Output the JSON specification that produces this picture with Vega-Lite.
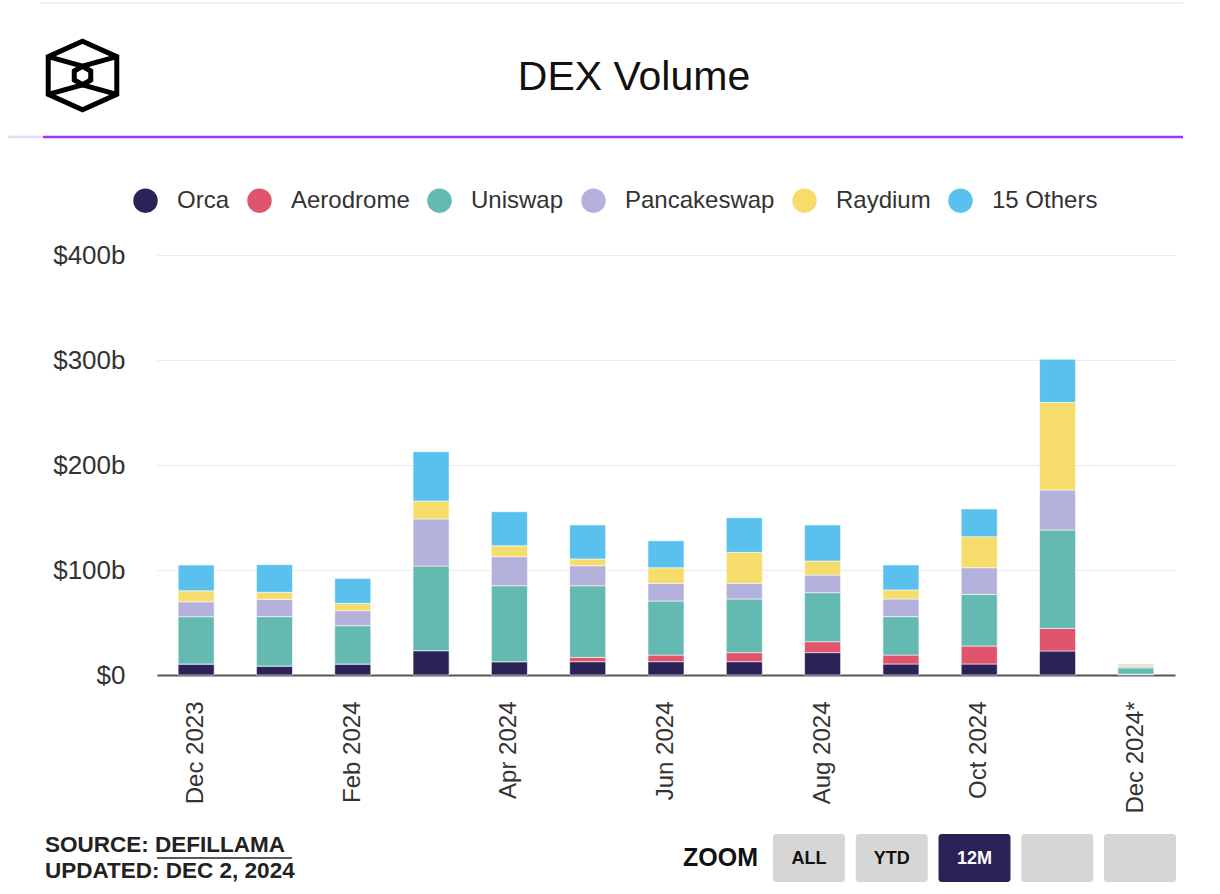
{
  "$schema": "https://vega.github.io/schema/vega-lite/v6.json",
  "padding": 0,
  "spacing": 0,
  "background": "white",
  "config": {"view": {"stroke": null}, "font": "Liberation Sans"},
  "vconcat": [
    {
      "width": 1018,
      "height": 242,
      "data": {"values": [{"t": "DEX Volume"}]},
      "layer": [
        {"mark": {"type": "rule", "color": "#eeeeee", "strokeWidth": 1.5}, "encoding": {"x": {"datum": -117, "type": "quantitative", "scale": {"domain": [0, 1018], "nice": false, "zero": false}, "axis": null}, "x2": {"datum": 1026}, "y": {"datum": 3, "type": "quantitative", "scale": {"domain": [242, 0], "nice": false, "zero": false}, "axis": null}}},
        {"mark": {"type": "rule", "color": "#e8dcfb", "strokeWidth": 2.5}, "encoding": {"x": {"datum": -149, "type": "quantitative"}, "x2": {"datum": -114}, "y": {"datum": 137, "type": "quantitative"}}},
        {"mark": {"type": "rule", "color": "#a133f5", "strokeWidth": 2.5}, "encoding": {"x": {"datum": -114, "type": "quantitative"}, "x2": {"datum": 1026}, "y": {"datum": 137, "type": "quantitative"}}},
        {"mark": {"type": "point", "filled": false, "stroke": "black", "strokeWidth": 5, "opacity": 1, "size": 4700, "shape": "M0,-1L1,-0.55L1,0.55L0,1L-1,0.55L-1,-0.55ZM-1,-0.55L0,-0.27L1,-0.55M-1,0.55L0,0.27L1,0.55M0,-0.27L0.24,-0.13L0.24,0.13L0,0.27L-0.24,0.13L-0.24,-0.13Z"}, "encoding": {"x": {"datum": -74.5, "type": "quantitative"}, "y": {"datum": 75.5, "type": "quantitative"}}},
        {"mark": {"type": "text", "fontSize": 41, "font": "Liberation Sans", "color": "#111111", "align": "center", "baseline": "middle"}, "encoding": {"text": {"field": "t"}, "x": {"datum": 477, "type": "quantitative"}, "y": {"datum": 78, "type": "quantitative"}}}
      ]
    },
    {
      "width": 1018,
      "height": 420,
      "data": {"values": [
        {"month": "Dec 2023", "dex": "Orca", "i": 1, "vol": 10.5}, {"month": "Dec 2023", "dex": "Aerodrome", "i": 2, "vol": 0}, {"month": "Dec 2023", "dex": "Uniswap", "i": 3, "vol": 45}, {"month": "Dec 2023", "dex": "Pancakeswap", "i": 4, "vol": 14.2}, {"month": "Dec 2023", "dex": "Raydium", "i": 5, "vol": 10.5}, {"month": "Dec 2023", "dex": "15 Others", "i": 6, "vol": 24.5},
        {"month": "Jan 2024", "dex": "Orca", "i": 1, "vol": 8.6}, {"month": "Jan 2024", "dex": "Aerodrome", "i": 2, "vol": 0}, {"month": "Jan 2024", "dex": "Uniswap", "i": 3, "vol": 47}, {"month": "Jan 2024", "dex": "Pancakeswap", "i": 4, "vol": 16.5}, {"month": "Jan 2024", "dex": "Raydium", "i": 5, "vol": 6.7}, {"month": "Jan 2024", "dex": "15 Others", "i": 6, "vol": 26.3},
        {"month": "Feb 2024", "dex": "Orca", "i": 1, "vol": 10.5}, {"month": "Feb 2024", "dex": "Aerodrome", "i": 2, "vol": 0}, {"month": "Feb 2024", "dex": "Uniswap", "i": 3, "vol": 36.5}, {"month": "Feb 2024", "dex": "Pancakeswap", "i": 4, "vol": 14.3}, {"month": "Feb 2024", "dex": "Raydium", "i": 5, "vol": 7}, {"month": "Feb 2024", "dex": "15 Others", "i": 6, "vol": 23.7},
        {"month": "Mar 2024", "dex": "Orca", "i": 1, "vol": 23.2}, {"month": "Mar 2024", "dex": "Aerodrome", "i": 2, "vol": 0}, {"month": "Mar 2024", "dex": "Uniswap", "i": 3, "vol": 80.6}, {"month": "Mar 2024", "dex": "Pancakeswap", "i": 4, "vol": 44.8}, {"month": "Mar 2024", "dex": "Raydium", "i": 5, "vol": 17.1}, {"month": "Mar 2024", "dex": "15 Others", "i": 6, "vol": 47},
        {"month": "Apr 2024", "dex": "Orca", "i": 1, "vol": 12.7}, {"month": "Apr 2024", "dex": "Aerodrome", "i": 2, "vol": 0}, {"month": "Apr 2024", "dex": "Uniswap", "i": 3, "vol": 72.3}, {"month": "Apr 2024", "dex": "Pancakeswap", "i": 4, "vol": 27.7}, {"month": "Apr 2024", "dex": "Raydium", "i": 5, "vol": 10.3}, {"month": "Apr 2024", "dex": "15 Others", "i": 6, "vol": 32.5},
        {"month": "May 2024", "dex": "Orca", "i": 1, "vol": 12.7}, {"month": "May 2024", "dex": "Aerodrome", "i": 2, "vol": 4.1}, {"month": "May 2024", "dex": "Uniswap", "i": 3, "vol": 68.2}, {"month": "May 2024", "dex": "Pancakeswap", "i": 4, "vol": 19.1}, {"month": "May 2024", "dex": "Raydium", "i": 5, "vol": 6.4}, {"month": "May 2024", "dex": "15 Others", "i": 6, "vol": 32.4},
        {"month": "Jun 2024", "dex": "Orca", "i": 1, "vol": 12.7}, {"month": "Jun 2024", "dex": "Aerodrome", "i": 2, "vol": 6.3}, {"month": "Jun 2024", "dex": "Uniswap", "i": 3, "vol": 51.5}, {"month": "Jun 2024", "dex": "Pancakeswap", "i": 4, "vol": 16.8}, {"month": "Jun 2024", "dex": "Raydium", "i": 5, "vol": 14.9}, {"month": "Jun 2024", "dex": "15 Others", "i": 6, "vol": 25.7},
        {"month": "Jul 2024", "dex": "Orca", "i": 1, "vol": 12.7}, {"month": "Jul 2024", "dex": "Aerodrome", "i": 2, "vol": 8.6}, {"month": "Jul 2024", "dex": "Uniswap", "i": 3, "vol": 51.1}, {"month": "Jul 2024", "dex": "Pancakeswap", "i": 4, "vol": 14.9}, {"month": "Jul 2024", "dex": "Raydium", "i": 5, "vol": 29.5}, {"month": "Jul 2024", "dex": "15 Others", "i": 6, "vol": 33},
        {"month": "Aug 2024", "dex": "Orca", "i": 1, "vol": 21.3}, {"month": "Aug 2024", "dex": "Aerodrome", "i": 2, "vol": 10.4}, {"month": "Aug 2024", "dex": "Uniswap", "i": 3, "vol": 46.7}, {"month": "Aug 2024", "dex": "Pancakeswap", "i": 4, "vol": 16.8}, {"month": "Aug 2024", "dex": "Raydium", "i": 5, "vol": 13.4}, {"month": "Aug 2024", "dex": "15 Others", "i": 6, "vol": 34.3},
        {"month": "Sep 2024", "dex": "Orca", "i": 1, "vol": 10.5}, {"month": "Sep 2024", "dex": "Aerodrome", "i": 2, "vol": 8.5}, {"month": "Sep 2024", "dex": "Uniswap", "i": 3, "vol": 36.6}, {"month": "Sep 2024", "dex": "Pancakeswap", "i": 4, "vol": 16.8}, {"month": "Sep 2024", "dex": "Raydium", "i": 5, "vol": 8.6}, {"month": "Sep 2024", "dex": "15 Others", "i": 6, "vol": 23.8},
        {"month": "Oct 2024", "dex": "Orca", "i": 1, "vol": 10.5}, {"month": "Oct 2024", "dex": "Aerodrome", "i": 2, "vol": 17.1}, {"month": "Oct 2024", "dex": "Uniswap", "i": 3, "vol": 49.2}, {"month": "Oct 2024", "dex": "Pancakeswap", "i": 4, "vol": 25.4}, {"month": "Oct 2024", "dex": "Raydium", "i": 5, "vol": 29.5}, {"month": "Oct 2024", "dex": "15 Others", "i": 6, "vol": 26.4},
        {"month": "Nov 2024", "dex": "Orca", "i": 1, "vol": 22.9}, {"month": "Nov 2024", "dex": "Aerodrome", "i": 2, "vol": 21.5}, {"month": "Nov 2024", "dex": "Uniswap", "i": 3, "vol": 93.7}, {"month": "Nov 2024", "dex": "Pancakeswap", "i": 4, "vol": 38.1}, {"month": "Nov 2024", "dex": "Raydium", "i": 5, "vol": 83.5}, {"month": "Nov 2024", "dex": "15 Others", "i": 6, "vol": 41},
        {"month": "Dec 2024*", "dex": "Orca", "i": 1, "vol": 0.5}, {"month": "Dec 2024*", "dex": "Aerodrome", "i": 2, "vol": 0.3}, {"month": "Dec 2024*", "dex": "Uniswap", "i": 3, "vol": 6}, {"month": "Dec 2024*", "dex": "Pancakeswap", "i": 4, "vol": 1.5}, {"month": "Dec 2024*", "dex": "Raydium", "i": 5, "vol": 1.5}, {"month": "Dec 2024*", "dex": "15 Others", "i": 6, "vol": 0.6}
      ]},
      "mark": {"type": "bar", "stroke": "white", "strokeWidth": 0.7, "strokeOpacity": 0.8},
      "encoding": {
        "x": {"field": "month", "type": "ordinal", "sort": null, "scale": {"paddingInner": 0.54, "paddingOuter": 0.27},
          "axis": {"title": null, "labelAngle": -90, "labelFontSize": 24, "labelColor": "#333333", "labelFont": "Liberation Sans", "domainColor": "#555555", "domainWidth": 2, "ticks": false, "labelPadding": 26, "minExtent": 135, "maxExtent": 135, "grid": false,
            "values": ["Dec 2023", "Feb 2024", "Apr 2024", "Jun 2024", "Aug 2024", "Oct 2024", "Dec 2024*"]}},
        "y": {"field": "vol", "type": "quantitative", "stack": "zero", "scale": {"domain": [0, 400], "nice": false},
          "axis": {"title": null, "values": [0, 100, 200, 300, 400], "grid": true, "gridColor": "#ebebeb", "gridWidth": 1.2, "domain": false, "ticks": false, "labelFontSize": 26, "labelColor": "#333333", "labelFont": "Liberation Sans", "labelPadding": 32, "minExtent": 157, "maxExtent": 157,
            "labelExpr": "datum.value == 0 ? '$0' : '$' + datum.value + 'b'"}},
        "order": {"field": "i", "type": "quantitative", "sort": "ascending"},
        "color": {"field": "dex", "type": "nominal",
          "sort": ["Orca", "Aerodrome", "Uniswap", "Pancakeswap", "Raydium", "15 Others"],
          "scale": {"domain": ["Orca", "Aerodrome", "Uniswap", "Pancakeswap", "Raydium", "15 Others"], "range": ["#2b2358", "#e0546c", "#64b9b0", "#b4b1dc", "#f6dc6b", "#5ac1ee"]},
          "legend": {"title": null, "orient": "none", "legendX": -24, "legendY": 188, "direction": "horizontal", "symbolType": "circle", "symbolSize": 600, "symbolStrokeWidth": 0, "symbolOpacity": 1, "labelFontSize": 24, "labelFont": "Liberation Sans", "labelColor": "#333333", "columnPadding": 17, "labelOffset": 19, "padding": 0, "labelLimit": 300}}
      }
    },
    {
      "width": 1018,
      "height": 84,
      "data": {"values": [{"id": "ALL", "label": "ALL"}, {"id": "YTD", "label": "YTD"}, {"id": "12M", "label": "12M"}, {"id": "b4", "label": ""}, {"id": "b5", "label": ""}]},
      "resolve": {"scale": {"x": "independent"}},
      "layer": [
        {"data": {"values": [{"t": "SOURCE: DEFILLAMA"}]}, "mark": {"type": "text", "fontSize": 22.5, "fontWeight": "bold", "font": "Liberation Sans", "color": "#222222", "align": "left", "baseline": "middle"}, "encoding": {"text": {"field": "t"}, "x": {"datum": -112, "type": "quantitative", "scale": {"domain": [0, 1018], "nice": false, "zero": false}, "axis": null}, "y": {"datum": 31, "type": "quantitative", "scale": {"domain": [84, 0], "nice": false, "zero": false}, "axis": null}}},
        {"data": {"values": [{"t": "UPDATED: DEC 2, 2024"}]}, "mark": {"type": "text", "fontSize": 22.5, "fontWeight": "bold", "font": "Liberation Sans", "color": "#222222", "align": "left", "baseline": "middle"}, "encoding": {"text": {"field": "t"}, "x": {"datum": -112, "type": "quantitative", "scale": {"domain": [0, 1018], "nice": false, "zero": false}, "axis": null}, "y": {"datum": 57, "type": "quantitative"}}},
        {"data": {"values": [{"t": "u"}]}, "mark": {"type": "rule", "color": "#222222", "strokeWidth": 1.5}, "encoding": {"x": {"datum": 0, "type": "quantitative", "scale": {"domain": [0, 1018], "nice": false, "zero": false}, "axis": null}, "x2": {"datum": 135}, "y": {"datum": 44, "type": "quantitative"}}},
        {"data": {"values": [{"t": "ZOOM"}]}, "mark": {"type": "text", "fontSize": 25, "fontWeight": "bold", "font": "Liberation Sans", "color": "#111111", "align": "left", "baseline": "middle"}, "encoding": {"text": {"field": "t"}, "x": {"datum": 526, "type": "quantitative", "scale": {"domain": [0, 1018], "nice": false, "zero": false}, "axis": null}, "y": {"datum": 44, "type": "quantitative"}}},
        {"mark": {"type": "rect", "cornerRadius": 3},
          "encoding": {"x": {"field": "id", "type": "nominal", "sort": null, "scale": {"type": "band", "range": [616, 1019], "paddingInner": 0.13, "paddingOuter": 0}, "axis": null},
            "y": {"datum": 20, "type": "quantitative"}, "y2": {"datum": 68},
            "color": {"condition": {"test": "datum.id == '12M'", "value": "#2a2157"}, "value": "#d6d6d6"}}},
        {"mark": {"type": "text", "fontSize": 18, "fontWeight": "bold", "font": "Liberation Sans", "align": "center", "baseline": "middle"},
          "encoding": {"x": {"field": "id", "type": "nominal", "sort": null, "scale": {"type": "band", "range": [616, 1019], "paddingInner": 0.13, "paddingOuter": 0}, "axis": null, "bandPosition": 0.5},
            "y": {"datum": 45, "type": "quantitative"}, "text": {"field": "label"},
            "color": {"condition": {"test": "datum.id == '12M'", "value": "#ffffff"}, "value": "#111111"}}}
      ]
    }
  ]
}
